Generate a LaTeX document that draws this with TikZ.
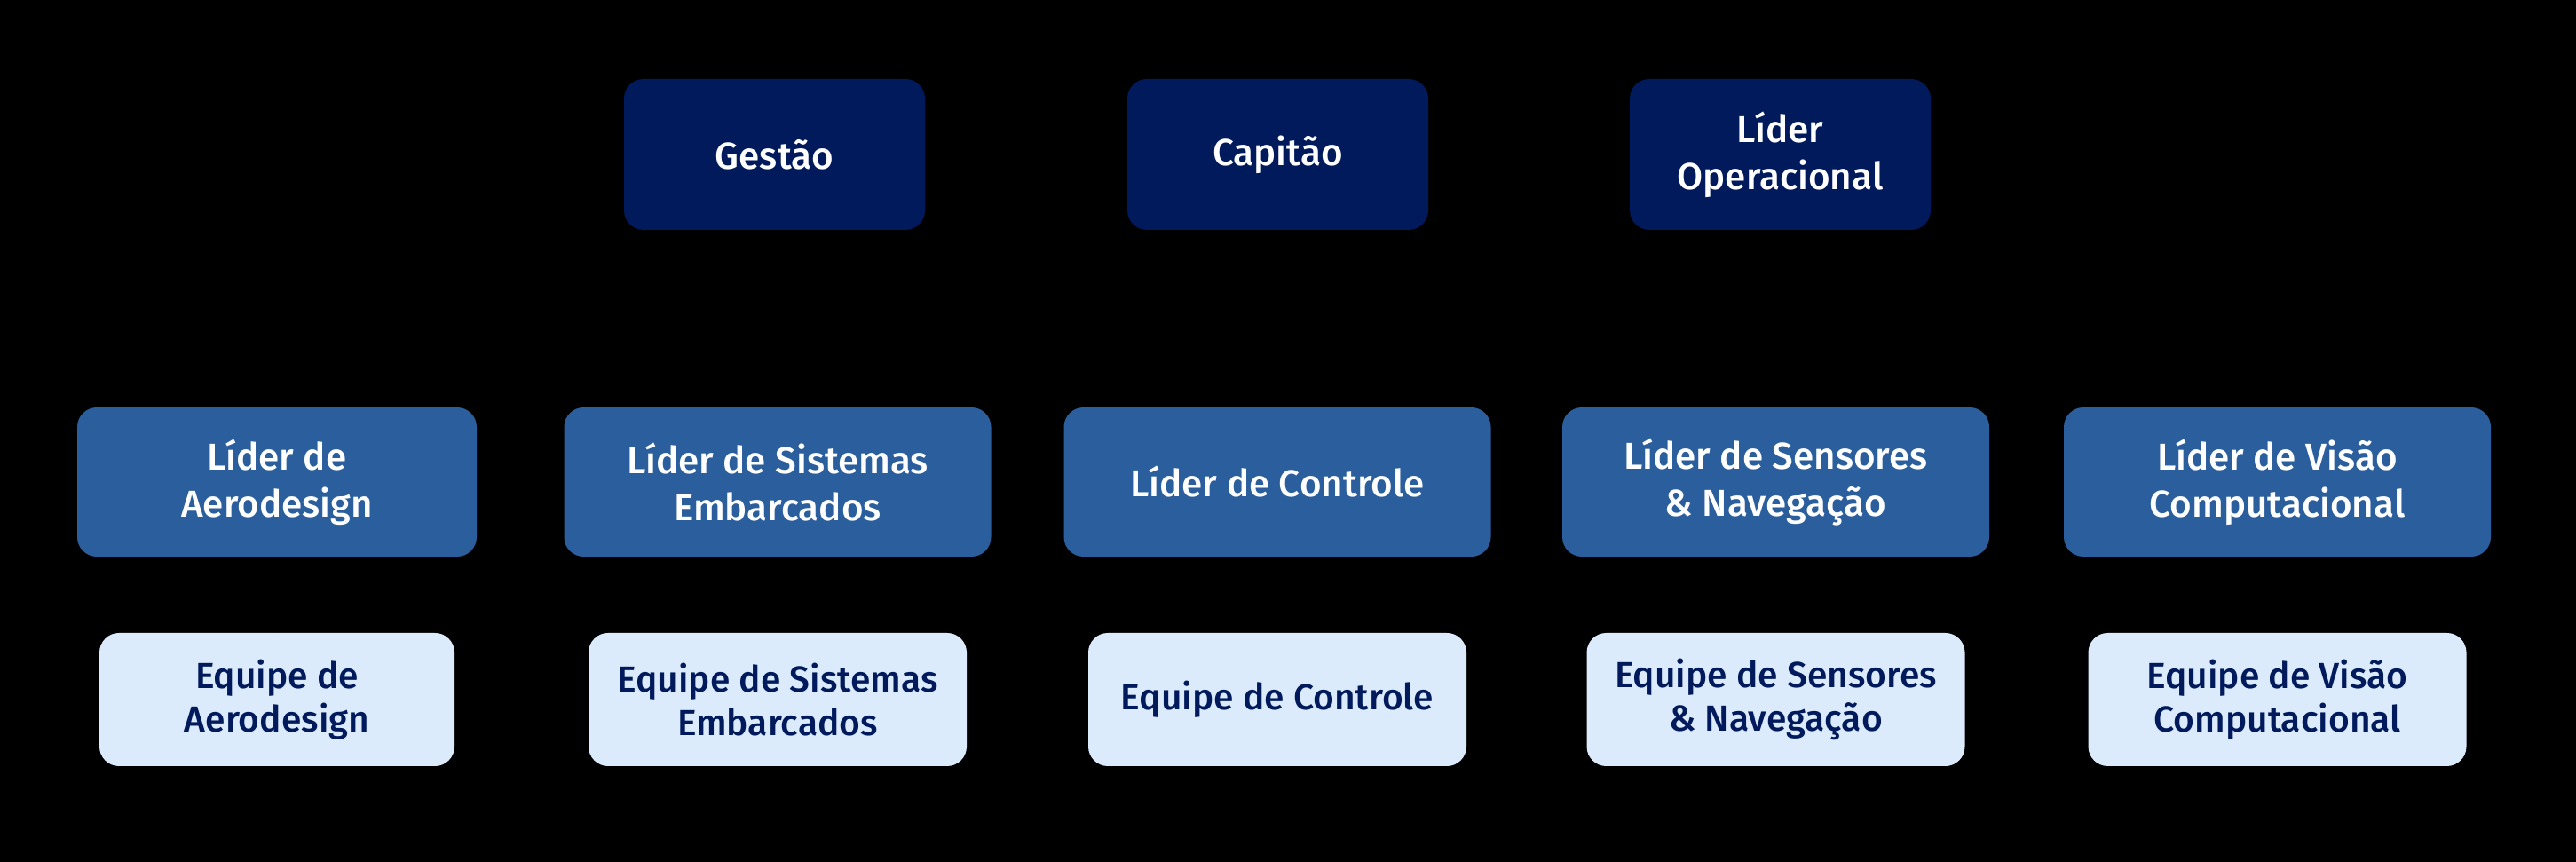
\documentclass[tikz,border=0pt]{standalone}
\usepackage{fontspec}
\setmainfont{Fira Sans}[UprightFont={* Medium}]
\definecolor{navy}{HTML}{001A5C}
\definecolor{leadblue}{HTML}{2B5E9C}
\definecolor{teamblue}{HTML}{DCEBFC}
\begin{document}
\begin{tikzpicture}[
    box/.style={rounded corners=0.22cm, align=center, inner sep=0pt,
        font=\fontsize{12}{15}\selectfont},
    chief/.style={box, fill=navy, text=white, minimum width=3.39cm, minimum height=1.70cm},
    lead/.style={box, fill=leadblue, text=white, minimum height=1.68cm},
    team/.style={box, fill=teamblue, text=navy, minimum height=1.50cm,
        font=\fontsize{11.6}{14}\selectfont},
    link/.style={black, thick, -latex}]
    \fill[black] (0,0) rectangle (29.02,9.71);
    %% top row
    \node[chief] (gestao) at (8.725,7.97) {Gestão};
    \node[chief] (capitao) at (14.395,7.97) {Capitão};
    \node[chief] (operacional) at (20.055,7.97) {Líder\\Operacional};
    %% leaders and their teams
    \foreach \n/\x/\lw/\tw/\lt/\tt in {
        aero/3.12/4.50/4.00/{Líder de\\Aerodesign}/{Equipe de\\Aerodesign},
        sist/8.76/4.81/4.26/{Líder de Sistemas\\Embarcados}/{Equipe de Sistemas\\Embarcados},
        ctrl/14.39/4.81/4.26/{Líder de Controle}/{Equipe de Controle},
        sens/20.005/4.81/4.26/{Líder de Sensores\\\& Navegação}/{Equipe de Sensores\\\& Navegação},
        visao/25.655/4.81/4.26/{Líder de Visão\\Computacional}/{Equipe de Visão\\Computacional}} {
        \node[lead, minimum width=\lw cm] (lead-\n) at (\x,4.28) {\lt};
        \node[team, minimum width=\tw cm] (team-\n) at (\x,1.83) {\tt};
        \draw[link] (capitao.south) to[out=-90,in=90] (lead-\n.north);
        \draw[link] (lead-\n.south) -- (team-\n.north);
    }
\end{tikzpicture}
\end{document}
